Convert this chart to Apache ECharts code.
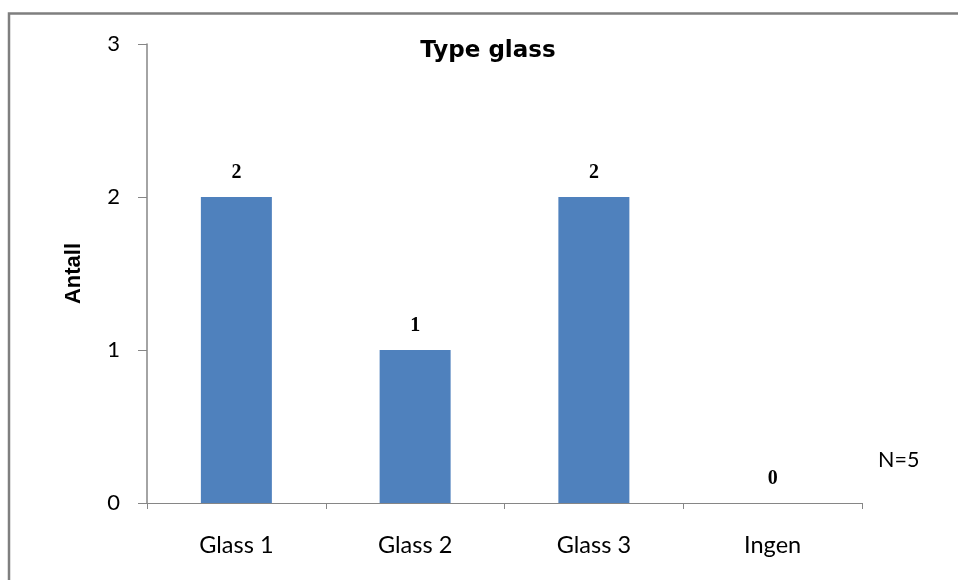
<!DOCTYPE html>
<html>
<head>
<meta charset="utf-8">
<script src="https://cdn.jsdelivr.net/npm/echarts@6/dist/echarts.min.js"></script>
<style>
  html, body { margin: 0; padding: 0; background: #ffffff; }
  #chart { width: 958px; height: 580px; }
</style>
</head>
<body>
<div id="chart"></div>
<script>
// Antall per glasstype
const categories = ['Glass 1', 'Glass 2', 'Glass 3', 'Ingen'];
const counts = [2, 1, 2, 0];
const yTicks = [0, 1, 2, 3];

const chart = echarts.init(document.getElementById('chart'));

const option = {
  backgroundColor: '#ffffff',
  animation: false,
  title: {
    text: 'Type glass',
    left: 483,
    top: 35,
    textAlign: 'center',
    textStyle: {
      fontFamily: 'DejaVu Sans',
      fontWeight: 'bold',
      fontSize: 23,
      color: '#000000'
    }
  },
  grid: { left: 147, right: 96, top: 44, bottom: 77, containLabel: false },
  xAxis: {
    type: 'category',
    data: categories,
    boundaryGap: true,
    axisLine: { lineStyle: { color: '#868686', width: 1 } },
    axisTick: { show: true, length: 6, interval: 0, lineStyle: { color: '#868686' } },
    axisLabel: {
      margin: 30,
      fontFamily: 'Lato',
      fontSize: 23.5,
      color: '#000000',
      interval: 0
    },
    splitLine: { show: false }
  },
  yAxis: {
    type: 'value',
    min: yTicks[0],
    max: yTicks[yTicks.length - 1],
    interval: 1,
    name: 'Antall',
    nameLocation: 'middle',
    nameGap: 62,
    nameRotate: 90,
    nameTextStyle: {
      fontFamily: 'Liberation Sans',
      fontWeight: 'bold',
      fontSize: 22,
      color: '#000000'
    },
    axisLine: { show: true, lineStyle: { color: '#868686', width: 1.5 } },
    axisTick: { show: true, length: 9, lineStyle: { color: '#868686' } },
    axisLabel: {
      margin: 27,
      fontFamily: 'Lato',
      fontSize: 22,
      color: '#000000'
    },
    splitLine: { show: false }
  },
  series: [{
    type: 'bar',
    data: counts,
    barWidth: 71,
    itemStyle: { color: '#4F81BD' },
    label: {
      show: true,
      position: 'top',
      distance: 14,
      fontFamily: 'Liberation Serif',
      fontWeight: 'bold',
      fontSize: 20,
      color: '#000000'
    }
  }],
  graphic: [
    {
      type: 'rect',
      silent: true,
      shape: { x: 9, y: 13.5, width: 1000, height: 1000 },
      style: { fill: 'none', stroke: '#7f7f7f', lineWidth: 2.5 }
    },
    {
      type: 'text',
      left: 878,
      top: 449,
      style: {
        text: 'N=5',
        fontFamily: 'Lato',
        fontSize: 21.5,
        fill: '#000000'
      }
    }
  ]
};

chart.setOption(option);
</script>
</body>
</html>
